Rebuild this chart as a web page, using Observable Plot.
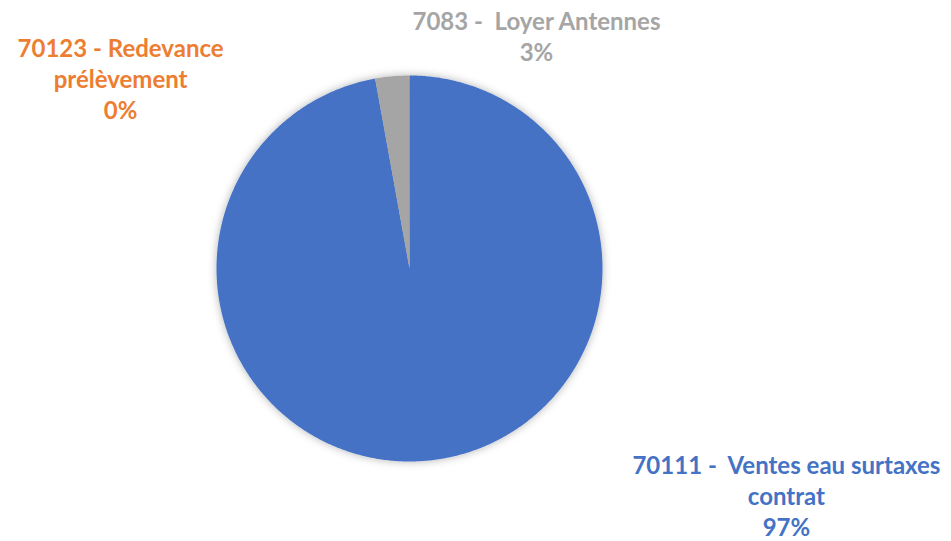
<!DOCTYPE html>
<html>
<head>
<meta charset="utf-8">
<script src="https://cdn.jsdelivr.net/npm/d3@7"></script>
<script src="https://cdn.jsdelivr.net/npm/@observablehq/plot@0.6"></script>
<style>
  html, body { margin: 0; padding: 0; background: #fff; }
  #chart { width: 951px; height: 541px; }
</style>
</head>
<body>
<div id="chart"></div>
<script>
// Data
const categories = ["70111 -  Ventes eau surtaxes\ncontrat", "7083 -  Loyer Antennes", "70123 - Redevance\nprélèvement"];
const shares = [97.15, 2.8, 0.05];
const pctLabels = ["97%", "3%", "0%"];
const colors = ["#4472C4", "#A5A5A5", "#ED7D31"];

// Label layout (unit-circle coordinates, relative to pie)
const labelLayout = [
  {x: 1.953, y: -1.176},
  {x: 0.658, y: 1.207},
  {x: -1.497, y: 0.987}
];

const slices = categories.map((c, i) => ({name: c, value: shares[i], color: colors[i], pct: pctLabels[i]}));
const arcs = d3.pie().sort(null).value(d => d.value)(slices);

// Build outline points for each slice (clockwise from 12 o'clock)
const pts = [];
arcs.forEach(a => {
  const n = Math.max(2, Math.ceil((a.endAngle - a.startAngle) / (Math.PI / 360)));
  pts.push({name: a.data.name, color: a.data.color, px: 0, py: 0});
  for (let k = 0; k <= n; k++) {
    const t = a.startAngle + (a.endAngle - a.startAngle) * k / n;
    pts.push({name: a.data.name, color: a.data.color, px: Math.sin(t), py: Math.cos(t)});
  }
  pts.push({name: a.data.name, color: a.data.color, px: 0, py: 0});
});

const labels = slices.map((s, i) => ({text: s.name + "\n" + s.pct, color: s.color, x: labelLayout[i].x, y: labelLayout[i].y}));

const plot = Plot.plot({
  width: 951,
  height: 541,
  margin: 0,
  x: {domain: [-1, 1], range: [216, 602], axis: null},
  y: {domain: [-1, 1], range: [461, 75], axis: null},
  style: {fontFamily: "Lato, 'Open Sans', sans-serif", background: "#fff"},
  marks: [
    Plot.line(pts, {x: "px", y: "py", z: "name", fill: "color", stroke: "none", curve: "linear"}),
    Plot.text(labels, {
      x: "x", y: "y", text: "text", fill: "color",
      fontSize: 24, fontWeight: "bold", lineHeight: 1.29,
      textAnchor: "middle", lineAnchor: "middle"
    })
  ]
});

// soft shadow under the pie
const svg = d3.select(plot);
const defs = svg.insert("defs", ":first-child");
const f = defs.append("filter").attr("id", "pieShadow").attr("x", "-20%").attr("y", "-20%").attr("width", "140%").attr("height", "140%");
f.append("feDropShadow").attr("dx", 0).attr("dy", 0).attr("stdDeviation", 4).attr("flood-color", "#000").attr("flood-opacity", 0.3);
svg.select("g[aria-label='line']").attr("filter", "url(#pieShadow)");

document.getElementById("chart").appendChild(plot);
</script>
</body>
</html>
